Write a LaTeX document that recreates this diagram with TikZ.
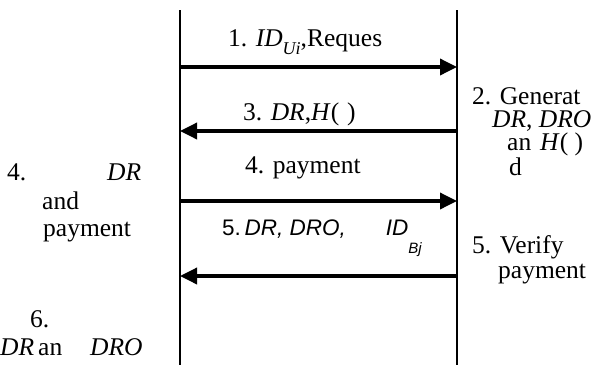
\documentclass[tikz,border=0pt]{standalone}
\usepackage{fontspec}
\setmainfont{Liberation Serif}
\newfontfamily\arialfont{Liberation Sans}
\usetikzlibrary{arrows.meta}
\tikzset{>={Triangle[length=17pt,width=16pt]},font=\fontsize{25.5}{30}\selectfont}
\tikzset{msg/.style={line width=3.5pt},life/.style={line width=1.5pt},
  txt/.style={anchor=base west,inner sep=0pt,text height=0.65em,text depth=0.12em}}

\begin{document}
\begin{tikzpicture}[x=1pt,y=-1pt]
\useasboundingbox (0,0) rectangle (613,365);
% lifelines
\coordinate (U_top) at (180,10);
\coordinate (U_bot) at (180,365);
\coordinate (B_top) at (457,10);
\coordinate (B_bot) at (457,365);
\draw[life] (U_top) -- (U_bot);
\draw[life] (B_top) -- (B_bot);

\coordinate (U1) at (180,67);  \coordinate (B1) at (457,67);
\coordinate (U3) at (180,131); \coordinate (B3) at (457,131);
\coordinate (U4) at (180,201); \coordinate (B4) at (457,201);
\coordinate (U5) at (180,276); \coordinate (B5) at (457,276);
\path[->,msg] (U1) edge (B1);
\path[->,msg] (B3) edge (U3);
\path[->,msg] (U4) edge (B4);
\path[->,msg] (B5) edge (U5);

% messages
\node[txt] (m1) at (228,46) {1. \textit{ID}\raisebox{-8pt}{\fontsize{18}{18}\selectfont\textit{Ui}},Reques};
\node[txt] (m3) at (243,120) {3. \textit{DR},\textit{H}(\hspace{8pt})};
\node[txt] (m4) at (245,173) {4. payment};
\node[txt] (m5) at (222,235) {\arialfont\fontsize{22.5}{26}\selectfont 5.\,\textit{DR, DRO,}\hspace{40pt}\textit{ID}\raisebox{-18pt}{\fontsize{15}{15}\selectfont\textit{Bj}}};

% right side
\node[txt] (r2a) at (472,104) {2. Generat};
\node[txt] (r2b) at (492,127) {\textit{DR}, \textit{DRO}};
\node[txt] (r2c) at (507,150) {an};
\node[txt] (r2d) at (540,150) {\textit{H}( )};
\node[txt] (r2e) at (509,175) {d};
\node[txt] (r5a) at (472,253) {5. Verify};
\node[txt] (r5b) at (498,278) {payment};

% left side
\node[txt] (l4a) at (7,180) {4.};
\node[txt] (l4b) at (107,180) {\textit{DR}};
\node[txt] (l4c) at (42,209) {and};
\node[txt] (l4d) at (43,236) {payment};
\node[txt] (l6a) at (30,327) {6.};
\node[txt] (l6b) at (0,355) {\textit{DR}};
\node[txt] (l6c) at (38,355) {an};
\node[txt] (l6d) at (90,355) {\textit{DRO}};
\end{tikzpicture}
\end{document}
